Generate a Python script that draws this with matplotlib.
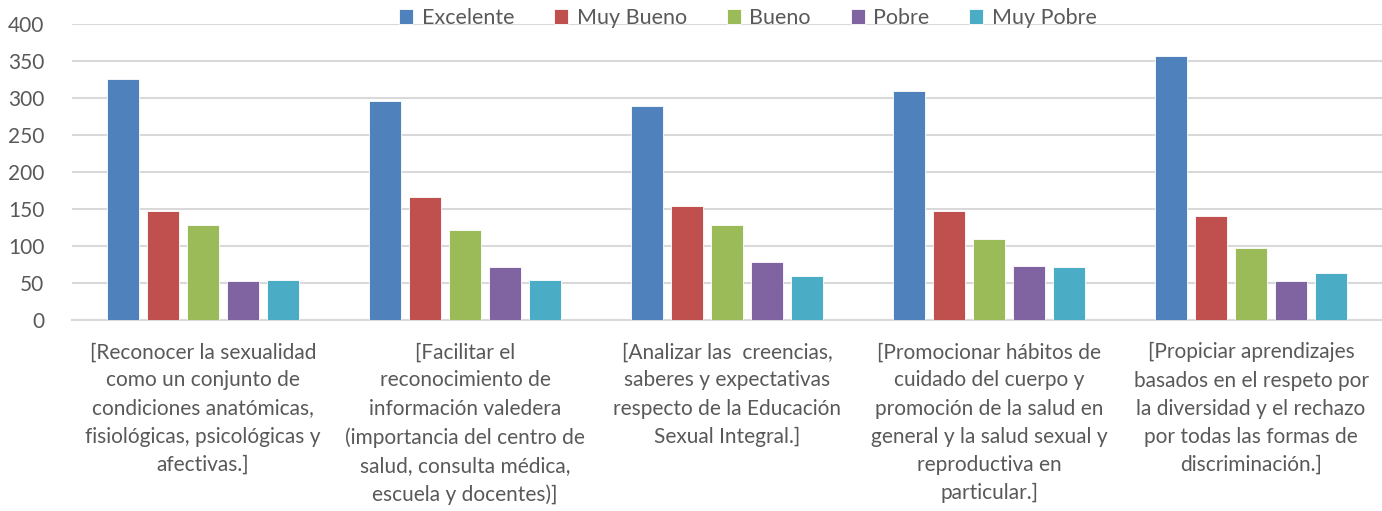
import numpy as np
import matplotlib.pyplot as plt

categorias = [
    "[Reconocer la sexualidad\ncomo un conjunto de\ncondiciones anatómicas,\nfisiológicas, psicológicas y\nafectivas.]",
    "[Facilitar el\nreconocimiento de\ninformación valedera\n(importancia del centro de\nsalud, consulta médica,\nescuela y docentes)]",
    "[Analizar las  creencias,\nsaberes y expectativas\nrespecto de la Educación\nSexual Integral.]",
    "[Promocionar hábitos de\ncuidado del cuerpo y\npromoción de la salud en\ngeneral y la salud sexual y\nreproductiva en\nparticular.]",
    "[Propiciar aprendizajes\nbasados en el respeto por\nla diversidad y el rechazo\npor todas las formas de\ndiscriminación.]",
]
series = ["Excelente", "Muy Bueno", "Bueno", "Pobre", "Muy Pobre"]
excelente = [326, 296, 289, 309, 357]
muy_bueno = [147, 166, 154, 147, 140]
bueno = [129, 122, 128, 109, 97]
pobre = [53, 71, 78, 73, 53]
muy_pobre = [54, 54, 59, 71, 63]
colores = ["#4F81BD", "#C0504D", "#9BBB59", "#8064A2", "#4BACC6"]

plt.rcParams['font.family'] = ['Lato', 'DejaVu Sans']
texto = '#595959'

fig = plt.figure(figsize=(13.82, 5.11), dpi=100)
ax = fig.add_axes([72 / 1382, 1 - 320 / 511, 1 - 72 / 1382, 296 / 511])

x = np.arange(len(categorias))
ancho = 0.122
paso = 0.153
valores = [excelente, muy_bueno, bueno, pobre, muy_pobre]
for i, (nombre, v) in enumerate(zip(series, valores)):
    ax.bar(x + (i - 2) * paso, v, ancho, color=colores[i], label=nombre,
           edgecolor='white', linewidth=0.6, zorder=3)

ax.set_xlim(-0.5, len(categorias) - 0.5)
ax.set_ylim(0, 400)
ax.set_yticks(range(0, 401, 50))
ax.yaxis.grid(True, color='#d9d9d9', linewidth=1.5, zorder=0)
ax.set_axisbelow(True)
for s in ['top', 'right', 'left']:
    ax.spines[s].set_visible(False)
ax.spines['bottom'].set_color('#d9d9d9')
ax.spines['bottom'].set_linewidth(1.5)
ax.tick_params(axis='both', length=0, colors=texto)
ax.tick_params(axis='y', pad=20, labelsize=15)
ax.tick_params(axis='x', pad=16, labelsize=15)
ax.set_xticks(x)
ax.set_xticklabels(categorias, ha='center', linespacing=1.51)
for t in ax.get_yticklabels():
    t.set_horizontalalignment('right')

fig.legend(loc='center', bbox_to_anchor=(748 / 1382, 1 - 18 / 511), ncol=5,
           frameon=False, fontsize=15.5, labelcolor=texto, handlelength=0.65,
           handleheight=0.65, columnspacing=1.85, handletextpad=0.4)

plt.savefig('out.png', dpi=100)
